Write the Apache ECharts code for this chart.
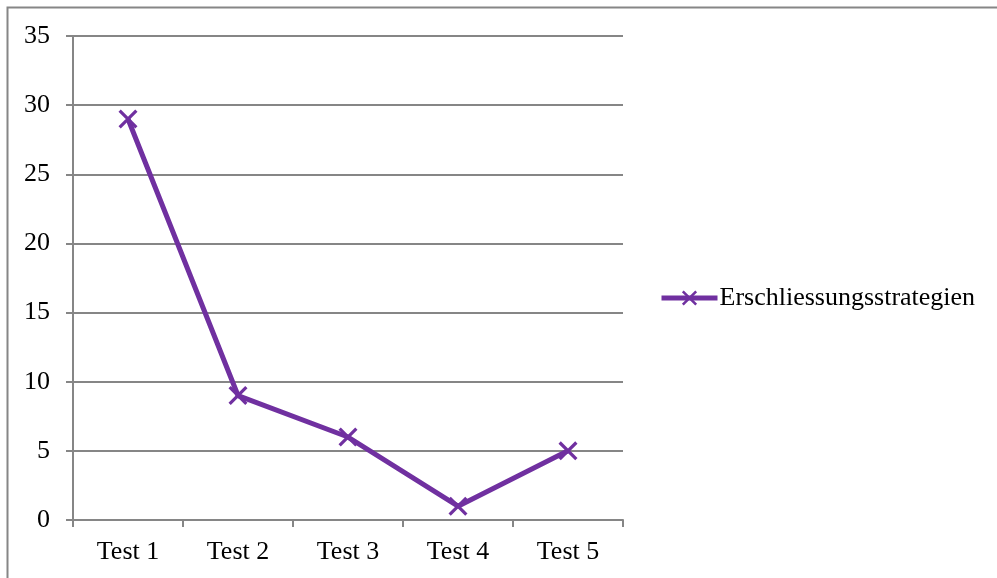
<!DOCTYPE html>
<html>
<head>
<meta charset="utf-8">
<script src="https://cdn.jsdelivr.net/npm/echarts@6/dist/echarts.min.js"></script>
<style>html,body{margin:0;padding:0;background:#fff;}#c{width:997px;height:578px;}</style>
</head>
<body>
<div id="c"></div>
<script>
var categories = ['Test 1', 'Test 2', 'Test 3', 'Test 4', 'Test 5'];
var seriesName = 'Erschliessungsstrategien';
var values = [29, 9, 6, 1, 5];
var yTicks = [0, 5, 10, 15, 20, 25, 30, 35];

var font = '"Liberation Serif", "Times New Roman", serif';
var purple = '#7030A0';
var xPath = 'path://M0,1.2L1.2,0L10,8.8L8.8,10Z M8.8,0L10,1.2L1.2,10L0,8.8Z';

var chart = echarts.init(document.getElementById('c'), null, {renderer: 'canvas'});
chart.setOption({
  animation: false,
  backgroundColor: '#fff',
  graphic: [{
    type: 'rect',
    shape: {x: 7.5, y: 7.5, width: 1200, height: 1200},
    style: {fill: 'none', stroke: '#868686', lineWidth: 2},
    silent: true
  }],
  grid: {left: 73, top: 36, width: 550, height: 484, containLabel: false},
  legend: {
    data: [seriesName],
    orient: 'vertical',
    left: 654,
    top: 280,
    itemWidth: 56,
    itemHeight: 19,
    itemGap: 0,
    lineStyle: {width: 5, color: purple},
    textStyle: {fontFamily: font, fontSize: 26, color: '#000', padding: [0, 0, 0, -3]}
  },
  xAxis: {
    type: 'category',
    data: categories,
    boundaryGap: true,
    axisLine: {lineStyle: {color: '#868686', width: 2}},
    axisTick: {show: true, alignWithLabel: false, length: 7, lineStyle: {color: '#868686', width: 2}},
    axisLabel: {fontFamily: font, fontSize: 26, color: '#000', margin: 19}
  },
  yAxis: {
    type: 'value',
    min: 0, max: 35, interval: 5,
    axisLine: {show: true, lineStyle: {color: '#868686', width: 2}},
    axisTick: {show: true, length: 7, lineStyle: {color: '#868686', width: 2}},
    axisLabel: {fontFamily: font, fontSize: 26, color: '#000', margin: 23,
      formatter: function (v) { return yTicks.indexOf(v) >= 0 ? String(v) : ''; }},
    splitLine: {show: true, lineStyle: {color: '#868686', width: 2}}
  },
  series: [{
    name: seriesName,
    type: 'line',
    data: values,
    symbol: xPath,
    symbolSize: 19,
    showAllSymbol: true,
    lineStyle: {color: purple, width: 5},
    itemStyle: {color: purple},
    z: 3
  }]
});
</script>
</body>
</html>
